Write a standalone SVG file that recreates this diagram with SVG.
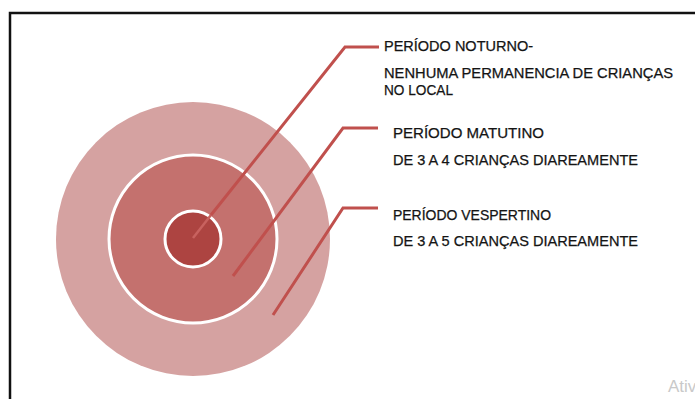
<svg xmlns="http://www.w3.org/2000/svg" width="695" height="399" viewBox="0 0 695 399">
  <style>
    .lbl { font-family: "Liberation Sans", Arial, sans-serif; font-size: 14px; fill: #141414; stroke: #141414; stroke-width: 0.25; }
    .conn { fill: none; stroke: #c0504d; stroke-width: 3; stroke-linejoin: miter; }
    .ring { stroke: #ffffff; stroke-width: 3; }
  </style>
  <rect width="695" height="399" fill="#ffffff"/>
  <!-- window frame -->
  <path d="M10 399 V13 H695" fill="none" stroke="#111111" stroke-width="2.5"/>

  <!-- concentric period rings -->
  <g id="vespertino">
    <circle cx="193" cy="239" r="137" fill="#d5a2a1"/>
  </g>
  <g id="matutino">
    <circle class="ring" cx="193" cy="239" r="84" fill="#c4716e"/>
  </g>
  <g id="noturno">
    <circle class="ring" cx="193" cy="239" r="28" fill="#ad4441"/>
  </g>

  <!-- leader lines -->
  <g id="connectors">
    <path d="M193 238 L211 215" fill="none" stroke="#c8625f" stroke-width="2.5"/>
    <path class="conn" d="M211 215 L345 47 H379"/>
    <path class="conn" d="M233 276 L343 128 H378"/>
    <path class="conn" d="M273 315 L343 208 H378"/>
  </g>

  <!-- labels -->
  <g id="label-noturno">
    <text class="lbl" x="384" y="51" textLength="149" lengthAdjust="spacingAndGlyphs">PERÍODO NOTURNO-</text>
    <text class="lbl" x="384" y="78" textLength="289" lengthAdjust="spacingAndGlyphs">NENHUMA PERMANENCIA DE CRIANÇAS</text>
    <text class="lbl" x="384" y="95" textLength="69" lengthAdjust="spacingAndGlyphs">NO LOCAL</text>
  </g>
  <g id="label-matutino">
    <text class="lbl" x="393" y="138" textLength="151" lengthAdjust="spacingAndGlyphs">PERÍODO MATUTINO</text>
    <text class="lbl" x="393" y="165" textLength="245" lengthAdjust="spacingAndGlyphs">DE 3 A 4 CRIANÇAS DIAREAMENTE</text>
  </g>
  <g id="label-vespertino">
    <text class="lbl" x="393" y="220" textLength="158" lengthAdjust="spacingAndGlyphs">PERÍODO VESPERTINO</text>
    <text class="lbl" x="393" y="246" textLength="245" lengthAdjust="spacingAndGlyphs">DE 3 A 5 CRIANÇAS DIAREAMENTE</text>
  </g>

  <text x="668" y="392" font-family="'Liberation Sans', Arial, sans-serif" font-size="17" fill="#c9c9c9">Ativ</text>
</svg>
